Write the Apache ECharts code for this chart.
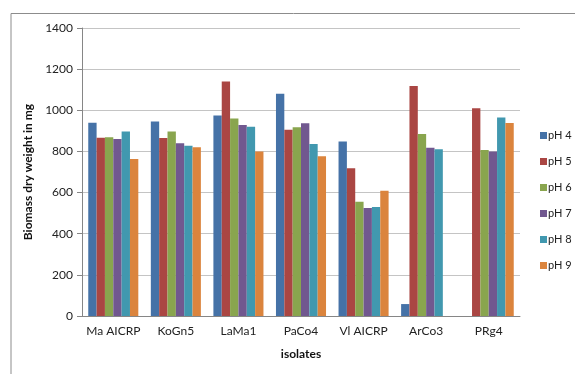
<!DOCTYPE html>
<html>
<head>
<meta charset="utf-8">
<script src="https://cdn.jsdelivr.net/npm/echarts@6/dist/echarts.min.js"></script>
<style>html,body{margin:0;padding:0;background:#fff}#c{width:575px;height:374px}</style>
</head>
<body>
<div id="c"></div>
<script>
var categories = ['Ma AICRP', 'KoGn5', 'LaMa1', 'PaCo4', 'Vl AICRP', 'ArCo3', 'PRg4'];
var seriesNames = ['pH 4', 'pH 5', 'pH 6', 'pH 7', 'pH 8', 'pH 9'];
var pH4 = [940, 945, 975, 1080, 848, 58, null];
var pH5 = [866, 865, 1140, 905, 718, 1118, 1010];
var pH6 = [869, 897, 960, 917, 555, 885, 807];
var pH7 = [861, 840, 928, 937, 525, 818, 800];
var pH8 = [897, 828, 920, 836, 530, 810, 965];
var pH9 = [763, 820, 800, 776, 609, null, 938];
var yTicks = [0, 200, 400, 600, 800, 1000, 1200, 1400];
var colors = ['#4572A7', '#AA4643', '#89A54E', '#71588F', '#4198AF', '#DB843D'];
var values = [pH4, pH5, pH6, pH7, pH8, pH9];

var font = 'Lato, "Open Sans", sans-serif';
var chart = echarts.init(document.getElementById('c'));
chart.setOption({
  animation: false,
  color: colors,
  graphic: [{
    type: 'polyline',
    shape: { points: [[11, 380], [11, 13.5], [580, 13.5]] },
    style: { stroke: '#8c8c8c', lineWidth: 1, fill: null }
  }],
  grid: { left: 82, top: 28, right: 55, bottom: 58 },
  legend: {
    orient: 'vertical',
    left: 535,
    top: 125,
    itemWidth: 7,
    itemHeight: 7,
    itemGap: 15,
    icon: 'rect',
    textStyle: { fontFamily: font, fontSize: 11, color: '#222', padding: [0, 0, 0, -4] },
    data: seriesNames
  },
  xAxis: {
    type: 'category',
    data: categories,
    name: 'isolates',
    nameLocation: 'middle',
    nameGap: 32,
    nameTextStyle: { fontFamily: font, fontSize: 12, fontWeight: 'bold', color: '#111' },
    axisLine: { lineStyle: { color: '#868686' } },
    axisTick: { show: false },
    axisLabel: { interval: 0, fontFamily: font, fontSize: 12, color: '#222', margin: 9 }
  },
  yAxis: {
    type: 'value',
    min: 0,
    max: 1400,
    interval: 200,
    name: 'Biomass dry weight in mg',
    nameLocation: 'middle',
    nameGap: 47,
    nameTextStyle: { fontFamily: font, fontSize: 12, fontWeight: 'bold', color: '#111' },
    axisLine: { show: true, lineStyle: { color: '#868686' } },
    axisTick: { show: true, length: 5, lineStyle: { color: '#868686' } },
    axisLabel: { fontFamily: font, fontSize: 12, color: '#222', margin: 9,
      formatter: function (v) { return yTicks.indexOf(v) >= 0 ? String(v) : ''; } },
    splitLine: { lineStyle: { color: '#c4c4c4', width: 1 } }
  },
  series: seriesNames.map(function (n, i) {
    return {
      name: n,
      type: 'bar',
      data: values[i],
      barGap: '0%',
      barCategoryGap: '20%',
      itemStyle: { color: colors[i] }
    };
  })
});
</script>
</body>
</html>
